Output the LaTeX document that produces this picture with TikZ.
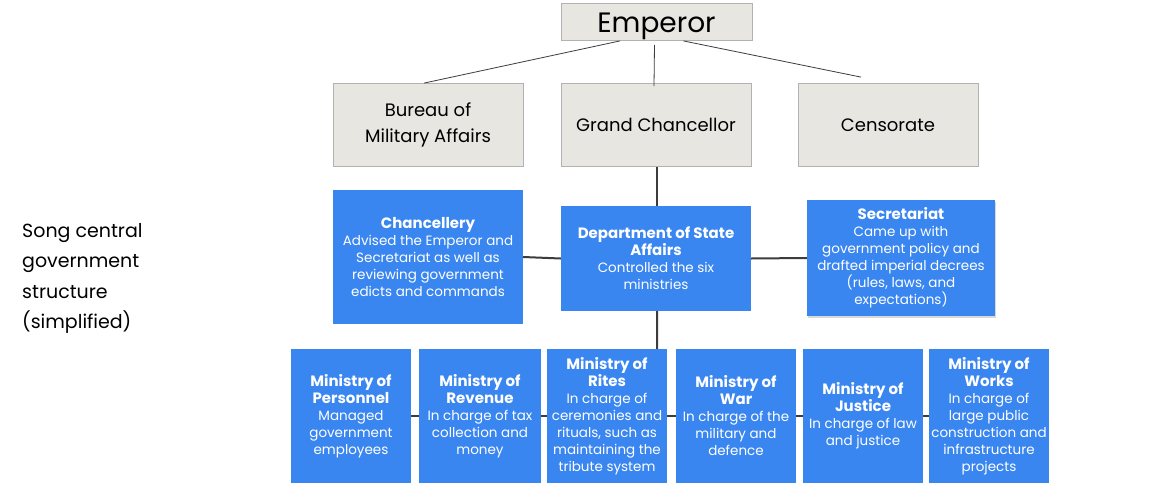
\documentclass[tikz,border=0pt]{standalone}
\usepackage{fontspec}
\setmainfont{Poppins}
\usetikzlibrary{calc,shadows}
\definecolor{grayfill}{RGB}{232,230,225}
\definecolor{grayline}{RGB}{178,178,178}
\definecolor{blueA}{RGB}{58,134,240}
\definecolor{conn}{RGB}{60,60,60}
\begin{document}
\begin{tikzpicture}[x=1pt,y=1pt,
  gbox/.style={draw=grayline, fill=grayfill, line width=0.8pt, inner sep=0pt, align=center, font=\fontsize{18}{27}\selectfont},
  bbox/.style={fill=blueA, text=white, inner sep=0pt, align=center, font=\fontsize{13.5}{17}\selectfont},
  thinc/.style={draw=conn, line width=0.8pt},
  thickc/.style={draw=conn, line width=2pt},
]
\useasboundingbox (0,0) rectangle (1160,-490);
\fill[white] (0,0) rectangle (1160,-490);

% top row
\node[gbox, minimum width=191, minimum height=37] (emp) at (656.5,-22) {};
\node[inner sep=0pt, font=\fontsize{28}{30}\selectfont, anchor=base] (empt) at ($(emp.center)+(0,-10)$) {Emperor};
\node[gbox, minimum width=190, minimum height=83] (bur) at (428,-125) {\raisebox{-1pt}{Bureau of}\\Military Affairs};
\node[gbox, minimum width=190, minimum height=83] (gc) at (656,-125) {Grand Chancellor};
\node[gbox, minimum width=180, minimum height=83] (cen) at (888,-125) {Censorate};

% middle row
\node[bbox, minimum width=190, minimum height=134] (cha) at (428,-257)
 {{\bfseries\fontsize{15}{18}\selectfont Chancellery}\\Advised the Emperor and\\Secretariat as well as\\reviewing government\\edicts and commands};
\node[bbox, minimum width=190, minimum height=105] (dsa) at (656,-258.5)
 {{\bfseries\fontsize{15}{18}\selectfont Department of State}\\{\bfseries\fontsize{15}{18}\selectfont Affairs}\\Controlled the six\\ministries};
\node[bbox, minimum width=188, minimum height=116, drop shadow={opacity=0.3, shadow xshift=1pt, shadow yshift=-2pt}] (sec) at (901,-258)
 {{\bfseries\fontsize{15}{18}\selectfont Secretariat}\\Came up with\\government policy and\\drafted imperial decrees\\(rules, laws, and\\expectations)};

% bottom row
\node[bbox, minimum width=120, minimum height=134] (per) at (351,-416)
 {{\bfseries\fontsize{15}{18}\selectfont Ministry of}\\{\bfseries\fontsize{15}{18}\selectfont Personnel}\\Managed\\government\\employees};
\node[bbox, minimum width=122, minimum height=134] (rev) at (480,-416)
 {{\bfseries\fontsize{15}{18}\selectfont Ministry of}\\{\bfseries\fontsize{15}{18}\selectfont Revenue}\\In charge of tax\\collection and\\money};
\node[bbox, minimum width=120, minimum height=134] (rit) at (607,-416)
 {{\bfseries\fontsize{15}{18}\selectfont Ministry of}\\{\bfseries\fontsize{15}{18}\selectfont Rites}\\In charge of\\ceremonies and\\rituals, such as\\maintaining the\\tribute system};
\node[bbox, minimum width=120, minimum height=134] (war) at (736,-416)
 {{\bfseries\fontsize{15}{18}\selectfont Ministry of}\\{\bfseries\fontsize{15}{18}\selectfont War}\\In charge of the\\military and\\defence};
\node[bbox, minimum width=120, minimum height=134] (jus) at (863,-416)
 {{\bfseries\fontsize{15}{18}\selectfont Ministry of}\\{\bfseries\fontsize{15}{18}\selectfont Justice}\\In charge of law\\and justice};
\node[bbox, minimum width=120, minimum height=134] (wor) at (989,-416)
 {{\bfseries\fontsize{15}{18}\selectfont Ministry of}\\{\bfseries\fontsize{15}{18}\selectfont Works}\\In charge of\\large public\\construction and\\infrastructure\\projects};

% left caption
\node[anchor=north west, align=left, inner sep=0pt, font=\fontsize{19}{30.5}\selectfont] (cap) at (22,-223)
 {Song central\\government\\structure\\(simplified)};

% connectors top
\draw[thinc] ($(emp.south west)!0.31!(emp.south east)$) -- ($(bur.north)+(-4,0)$);
\draw[thinc] ($(emp.south)+(-2,-4)$) -- ($(gc.north)+(-2,-3)$);
\draw[thinc] ($(emp.south west)!0.64!(emp.south east)$) -- ($(cen.north)+(-27,6)$);

% connectors lower
\draw[thickc] ($(gc.south)+(1,0)$) -- ($(dsa.north)+(1,0)$);
\draw[thickc] (cha.east) -- (dsa.west);
\draw[thickc] (dsa.east) -- (sec.west);
\draw[thickc] ($(dsa.south)+(1,0)$) -- ($(rit.north east)+(-10,0)$);
\draw[thickc] (per.east) -- (rev.west);
\draw[thickc] (rev.east) -- (rit.west);
\draw[thickc] (rit.east) -- (war.west);
\draw[thickc] (war.east) -- (jus.west);
\draw[thickc] (jus.east) -- (wor.west);
\end{tikzpicture}
\end{document}
